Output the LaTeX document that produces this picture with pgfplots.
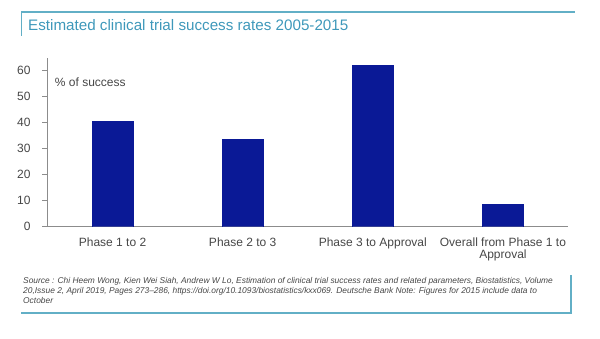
\documentclass[border=0pt]{standalone}
\usepackage{pgfplots}
\pgfplotsset{compat=1.18}
\usepackage{fontspec}
\setmainfont{Liberation Sans}
\definecolor{teal1}{RGB}{98,175,198}
\definecolor{titlec}{RGB}{62,152,186}
\definecolor{barc}{RGB}{10,25,150}
\definecolor{axc}{RGB}{140,140,140}
\definecolor{txt}{RGB}{70,70,70}
\begin{document}
\begin{tikzpicture}
\useasboundingbox (0,0) rectangle (600pt,338pt);
% frame
\draw[teal1, line width=1.6pt] (21pt,326pt) -- (575pt,326pt);
\draw[teal1, line width=1.6pt] (21.5pt,326pt) -- (21.5pt,302pt);
\draw[teal1, line width=1.6pt] (571pt,63pt) -- (571pt,25pt);
\draw[teal1, line width=1.6pt] (21pt,25pt) -- (571.8pt,25pt);
% title
\node[anchor=base west, inner sep=0pt, text=titlec, font=\fontsize{15.2}{17}\selectfont] at (28pt,307pt) {Estimated clinical trial success rates 2005-2015};
% source
\node[anchor=base west, inner sep=0pt, text=txt, font=\fontsize{8.4}{10}\selectfont\itshape, align=left] at (23pt,35pt) {Source : Chi Heem Wong, Kien Wei Siah, Andrew W Lo, Estimation of clinical trial success rates and related parameters, Biostatistics, Volume\\20,Issue 2, April 2019, Pages 273--286, https://doi.org/10.1093/biostatistics/kxx069. Deutsche Bank Note: Figures for 2015 include data to\\October};
\begin{axis}[
  at={(47.5pt,111.3pt)}, anchor=south west,
  scale only axis, width=520.5pt, height=169pt,
  xmin=-0.5, xmax=3.5, ymin=0, ymax=65,
  axis x line*=bottom, axis y line*=left,
  axis line style={axc, line width=0.6pt},
  ytick={0,10,...,60},
  xtick={0,1,2,3},
  xticklabels={Phase 1 to 2,Phase 2 to 3,Phase 3 to Approval,{Overall from Phase 1 to\\Approval}},
  x tick style={draw=none},
  extra x ticks={0.5,1.5,2.5,3.5},
  extra x tick labels={},
  extra x tick style={major tick length=3pt, tick style={axc, line width=0.6pt, draw=axc}, tick pos=left},
  y tick style={axc, line width=0.6pt},
  tick align=outside, major tick length=5pt,
  tick label style={font=\fontsize{12}{12}\selectfont, text=txt},
  xticklabel style={align=center, yshift=-3pt},
  yticklabel style={xshift=-8.5pt},
  /pgf/number format/assume math mode=true,
  ybar, bar width=0.315,
]
\addplot[fill=barc, draw=barc] coordinates {(0,40.5) (1,33.5) (2,62) (3,8.5)};
\node[anchor=west, font=\fontsize{12}{13}\selectfont, text=txt, inner sep=0pt] at (rel axis cs:0.014,0.853) {\% of success};
\end{axis}
\end{tikzpicture}
\end{document}
